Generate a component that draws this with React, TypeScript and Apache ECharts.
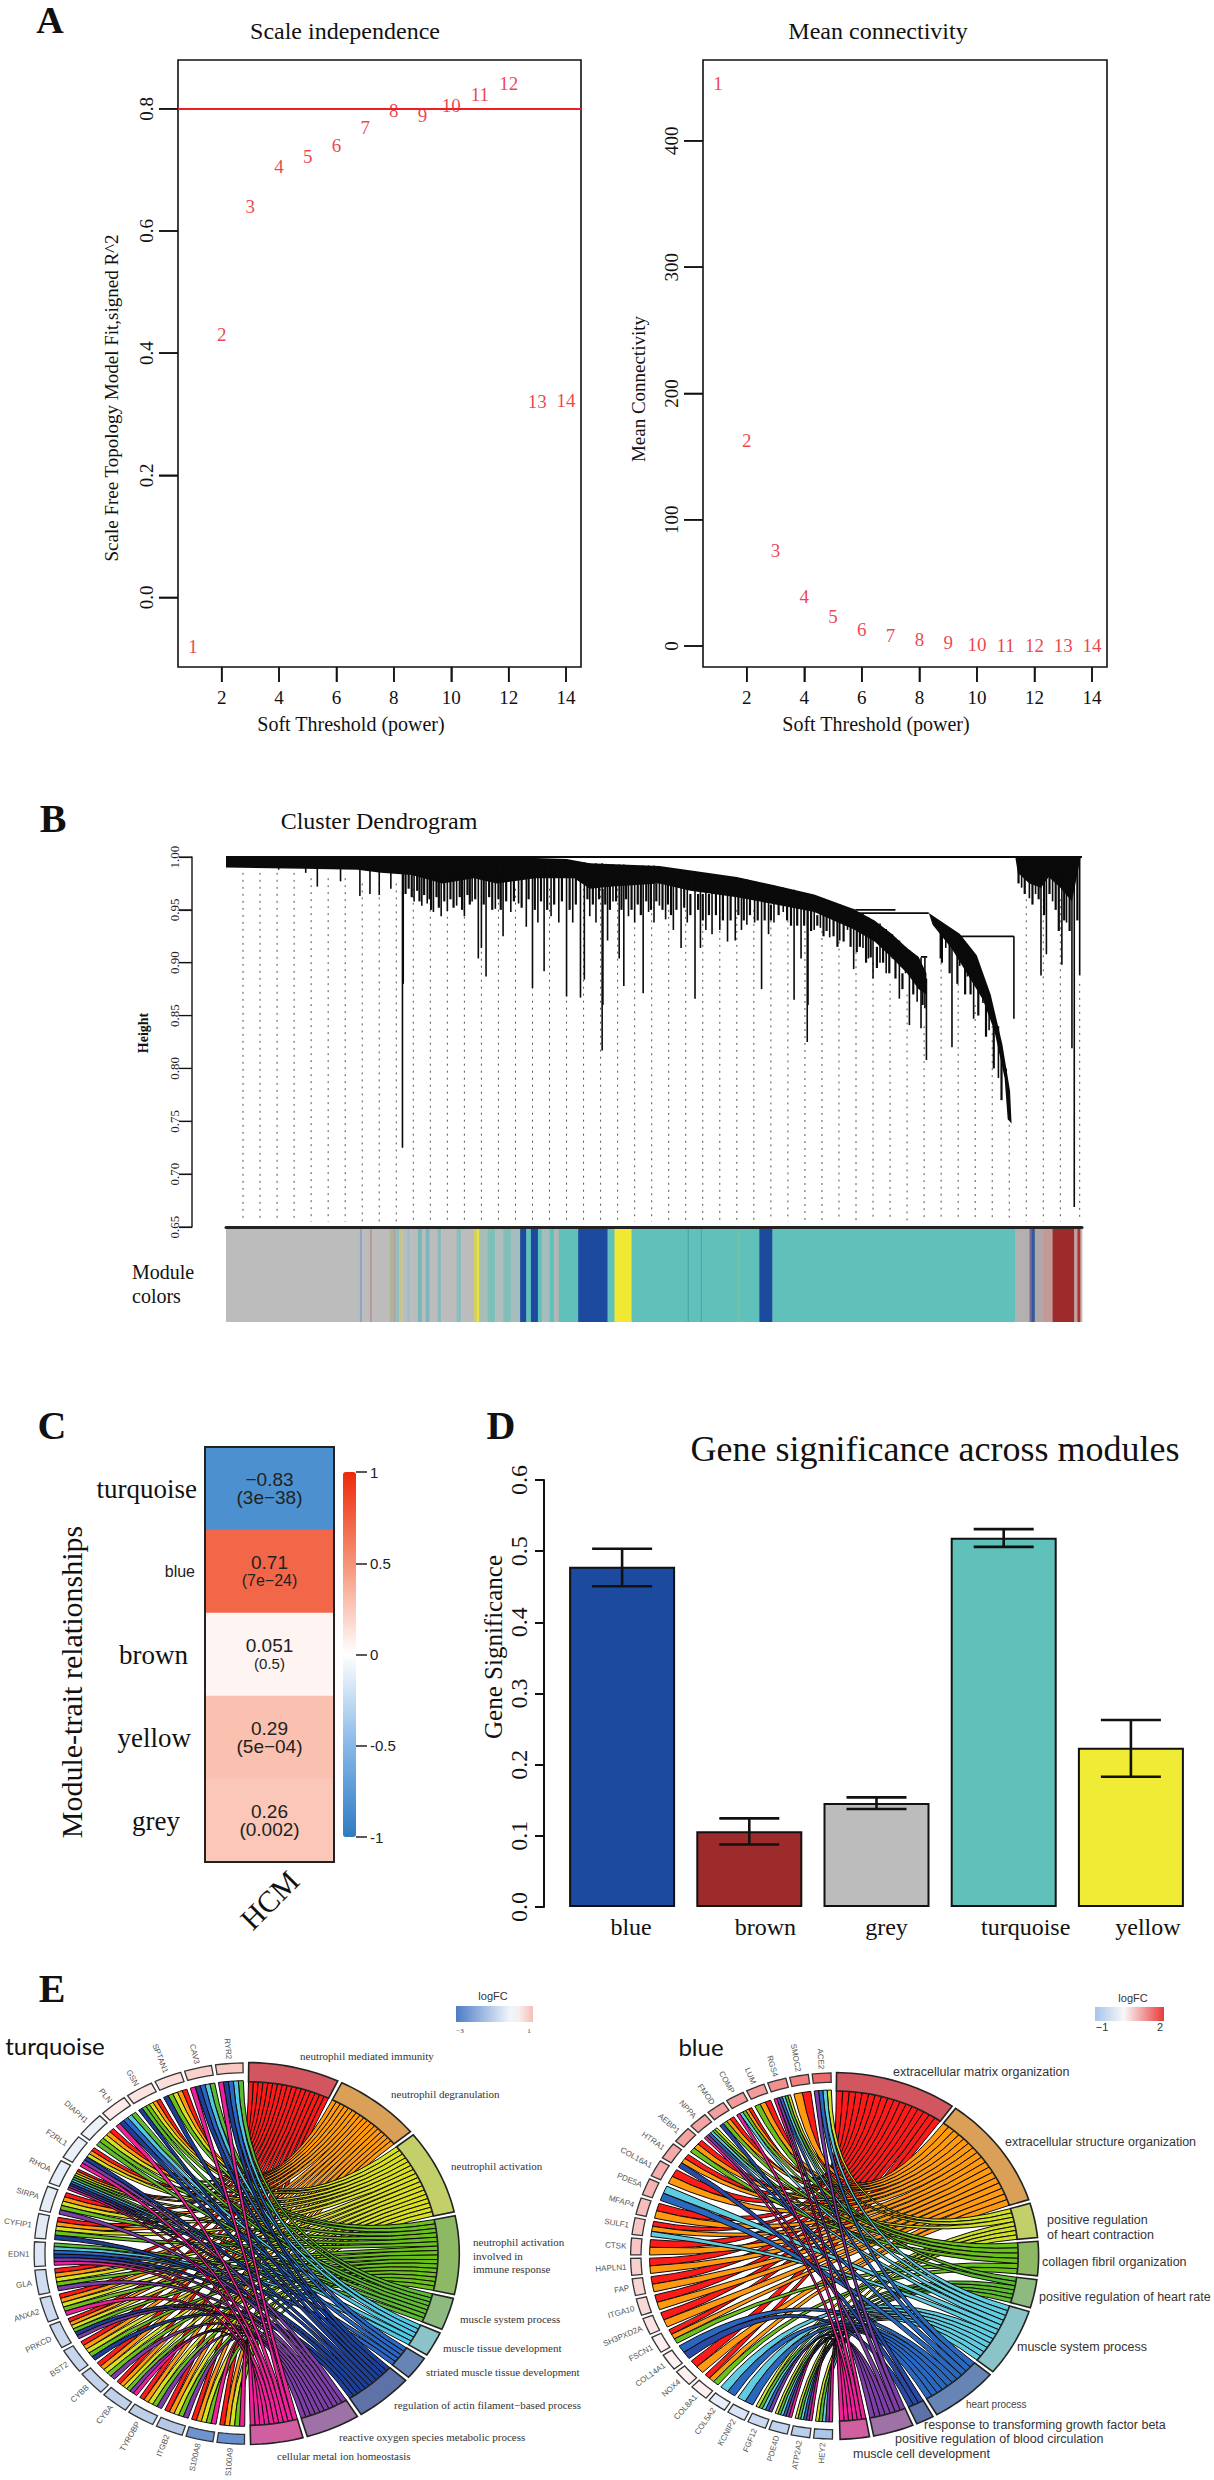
import React, { useEffect, useRef } from "react";
import * as echarts from "echarts";

const SERIF = '"Liberation Serif"';
const SANS = '"Liberation Sans"';

// ---------- Panel A ----------
const powers = [1, 2, 3, 4, 5, 6, 7, 8, 9, 10, 11, 12, 13, 14];
const scaleFit = [-0.08, 0.43, 0.64, 0.705, 0.722, 0.74, 0.769, 0.798, 0.789, 0.806, 0.824, 0.842, 0.321, 0.323];
const meanConn = [445, 163, 75.6, 39, 23, 13, 8.7, 5, 3, 1.6, 0.8, 0.5, 0.3, 0.2];
const powerTicks = [2, 4, 6, 8, 10, 12, 14];
const fitTicks = [0, 0.2, 0.4, 0.6, 0.8];
const connTicks = [0, 100, 200, 300, 400];

// ---------- Panel B ----------
const heightTicks = [0.65, 0.7, 0.75, 0.8, 0.85, 0.9, 0.95, 1.0];
const guideRanks = [22, 44, 66, 88, 110, 132, 154, 176, 198, 220, 242, 264, 286, 308, 330, 352, 374, 396, 418, 440, 462, 484, 506, 528, 550, 572, 594, 616, 638, 660, 682, 704, 726, 748, 770, 792, 814, 836, 858, 880, 902, 924, 946, 968, 990, 1012, 1034, 1056, 1078, 1103];
const guideTops = [0.985, 0.985, 0.985, 0.985, 0.98, 0.98, 0.98, 0.975, 0.975, 0.975, 0.97, 0.97, 0.97, 0.97, 0.97, 0.97, 0.97, 0.97, 0.97, 0.97, 0.97, 0.97, 0.97, 0.96, 0.96, 0.95, 0.95, 0.95, 0.95, 0.95, 0.95, 0.94, 0.94, 0.93, 0.93, 0.92, 0.91, 0.9, 0.88, 0.87, 0.84, 0.9, 0.88, 0.86, 0.84, 0.76, 0.96, 0.96, 0.96, 0.88];
// [gene rank, merge height, lowest leaf height]
const drips = [
  [68, 0.995, 0.988], [103, 0.995, 0.985], [118, 0.995, 0.972], [148, 0.995, 0.977], [173, 0.995, 0.963], [186, 0.995, 0.965], [198, 0.995, 0.964], [213, 0.995, 0.97],
  [228, 0.998, 0.725], [229, 0.998, 0.88], [243, 0.998, 0.958], [253, 0.998, 0.954], [260, 0.998, 0.956], [268, 0.998, 0.948], [278, 0.998, 0.944], [286, 0.998, 0.949],
  [298, 0.998, 0.954], [308, 0.998, 0.944], [318, 0.998, 0.958], [326, 0.998, 0.904], [330, 0.998, 0.914], [336, 0.998, 0.887], [348, 0.998, 0.951], [358, 0.998, 0.925],
  [368, 0.998, 0.948], [378, 0.998, 0.956], [388, 0.998, 0.934], [396, 0.998, 0.876], [403, 0.998, 0.938], [411, 0.998, 0.892], [420, 0.998, 0.944], [430, 0.998, 0.938],
  [440, 0.998, 0.868], [448, 0.996, 0.938], [458, 0.995, 0.867], [463, 0.995, 0.884], [470, 0.994, 0.944], [478, 0.994, 0.938], [486, 0.994, 0.817], [487, 0.97, 0.86],
  [493, 0.993, 0.921], [500, 0.993, 0.958], [508, 0.993, 0.904], [514, 0.993, 0.878], [520, 0.992, 0.944], [528, 0.992, 0.938], [539, 0.992, 0.871], [546, 0.992, 0.948],
  [553, 0.992, 0.938], [560, 0.991, 0.954], [568, 0.99, 0.941], [578, 0.989, 0.931], [588, 0.988, 0.914], [596, 0.987, 0.938], [606, 0.986, 0.866], [613, 0.985, 0.914],
  [620, 0.984, 0.931], [628, 0.983, 0.927], [638, 0.982, 0.931], [648, 0.981, 0.92], [658, 0.981, 0.921], [666, 0.98, 0.931], [673, 0.979, 0.936], [683, 0.977, 0.938],
  [692, 0.975, 0.875], [701, 0.974, 0.927], [708, 0.973, 0.938], [720, 0.971, 0.948], [734, 0.969, 0.865], [743, 0.967, 0.904], [751, 0.965, 0.825], [752, 0.965, 0.86],
  [760, 0.964, 0.931], [768, 0.962, 0.933], [780, 0.958, 0.924], [793, 0.955, 0.921], [803, 0.952, 0.931], [811, 0.951, 0.894], [823, 0.946, 0.914], [830, 0.943, 0.904],
  [836, 0.94, 0.885], [845, 0.937, 0.9], [853, 0.932, 0.89], [861, 0.927, 0.904], [870, 0.921, 0.866], [878, 0.915, 0.89], [883, 0.912, 0.841], [893, 0.906, 0.863],
  [898, 0.905, 0.838], [903, 0.905, 0.857], [905, 0.885, 0.808], [923, 0.937, 0.904], [930, 0.93, 0.914], [938, 0.925, 0.82], [948, 0.925, 0.897], [958, 0.917, 0.887],
  [966, 0.905, 0.847], [978, 0.88, 0.862], [986, 0.87, 0.836], [998, 0.84, 0.791], [1008, 0.8, 0.786], [1018, 0.925, 0.847], [1028, 0.998, 0.971], [1038, 0.998, 0.961],
  [1046, 0.998, 0.965], [1053, 0.998, 0.888], [1060, 0.998, 0.908], [1068, 0.998, 0.958], [1080, 0.998, 0.898], [1086, 0.996, 0.938], [1093, 0.996, 0.819], [1096, 0.996, 0.669], [1103, 0.999, 0.888],
];
// shorter leaves that make up the comb under the merge line
const combDrips = [
  [232, 0.985, 0.965], [236, 0.985, 0.97], [240, 0.985, 0.962], [247, 0.985, 0.968], [250, 0.985, 0.958], [256, 0.985, 0.964], [263, 0.985, 0.96], [265, 0.985, 0.95], [272, 0.985, 0.962], [275, 0.985, 0.952],
  [282, 0.985, 0.958], [290, 0.985, 0.96], [294, 0.985, 0.952], [302, 0.985, 0.962], [305, 0.985, 0.95], [312, 0.985, 0.964], [315, 0.985, 0.955], [322, 0.985, 0.96], [333, 0.985, 0.955], [340, 0.985, 0.962],
  [344, 0.985, 0.95], [352, 0.985, 0.96], [355, 0.985, 0.95], [362, 0.985, 0.958], [372, 0.985, 0.958], [382, 0.985, 0.952], [391, 0.985, 0.96], [399, 0.985, 0.95], [407, 0.985, 0.958], [415, 0.985, 0.95],
  [424, 0.985, 0.955], [434, 0.985, 0.958], [444, 0.985, 0.95], [452, 0.985, 0.955], [467, 0.975, 0.96], [474, 0.975, 0.955], [482, 0.975, 0.96], [490, 0.975, 0.955], [496, 0.975, 0.95], [504, 0.975, 0.958],
  [511, 0.975, 0.95], [517, 0.975, 0.96], [524, 0.975, 0.95], [532, 0.975, 0.955], [536, 0.975, 0.945], [543, 0.975, 0.958], [549, 0.975, 0.95], [556, 0.975, 0.958], [564, 0.975, 0.95], [571, 0.975, 0.955],
  [575, 0.975, 0.945], [582, 0.975, 0.95], [592, 0.975, 0.952], [600, 0.965, 0.945], [610, 0.965, 0.95], [616, 0.965, 0.94], [624, 0.965, 0.945], [633, 0.965, 0.945], [642, 0.965, 0.94], [652, 0.965, 0.94],
  [662, 0.965, 0.945], [669, 0.965, 0.94], [677, 0.965, 0.945], [687, 0.965, 0.94], [696, 0.965, 0.94], [704, 0.955, 0.94], [714, 0.955, 0.945], [725, 0.955, 0.94], [730, 0.955, 0.935], [738, 0.955, 0.935],
  [747, 0.955, 0.935], [756, 0.955, 0.93], [764, 0.945, 0.935], [772, 0.945, 0.925], [776, 0.945, 0.93], [785, 0.945, 0.925], [790, 0.945, 0.915], [798, 0.945, 0.92], [807, 0.945, 0.915], [815, 0.93, 0.91],
  [819, 0.93, 0.915], [827, 0.93, 0.9], [833, 0.93, 0.905], [841, 0.915, 0.895], [849, 0.915, 0.9], [857, 0.915, 0.89], [865, 0.915, 0.885], [874, 0.89, 0.875], [888, 0.89, 0.87], [900, 0.89, 0.86],
  [925, 0.93, 0.9], [935, 0.92, 0.89], [945, 0.915, 0.88], [955, 0.905, 0.87], [962, 0.9, 0.87], [972, 0.88, 0.85], [982, 0.86, 0.83], [992, 0.84, 0.8], [1002, 0.82, 0.77],
  [1024, 0.99, 0.975], [1032, 0.99, 0.965], [1042, 0.99, 0.955], [1050, 0.99, 0.96], [1057, 0.99, 0.945], [1064, 0.99, 0.965], [1072, 0.99, 0.95], [1076, 0.99, 0.93], [1083, 0.99, 0.94], [1090, 0.99, 0.93], [1100, 0.99, 0.94],
];
const massMain = [
  [0, 1.0], [400, 0.999], [440, 0.998], [470, 0.994], [560, 0.9916], [660, 0.981], [710, 0.973], [760, 0.9646], [810, 0.951], [838, 0.94], [860, 0.9275], [880, 0.914], [895, 0.9055], [905, 0.89],
  [905, 0.87], [895, 0.875], [880, 0.89], [860, 0.905], [838, 0.92], [810, 0.932], [760, 0.948], [710, 0.955], [660, 0.962], [600, 0.968], [560, 0.975], [500, 0.972], [470, 0.97], [450, 0.98], [400, 0.98], [350, 0.975], [320, 0.98], [280, 0.975], [240, 0.983], [200, 0.985], [170, 0.988], [100, 0.989], [0, 0.99],
];
const massBranch = [
  [908, 0.947], [948, 0.9274], [970, 0.907], [988, 0.87], [1003, 0.823], [1013, 0.779], [1015, 0.748],
  [1010, 0.752], [1006, 0.791], [993, 0.835], [978, 0.865], [958, 0.889], [938, 0.913], [913, 0.936],
];
const massRight = [
  [1020, 0.999], [1104, 0.999], [1103, 0.995], [1093, 0.958], [1078, 0.971], [1063, 0.981], [1053, 0.971], [1038, 0.975], [1023, 0.985],
];
// [rank from, rank to, merge height]
const merges = [[0, 1106, 1.0], [813, 865, 0.95], [818, 908, 0.947], [948, 1018, 0.925], [898, 906, 0.9055], [1058, 1100, 0.995]];
const moduleStarts = [0, 173, 176, 186, 189, 211, 215, 220, 224, 228, 233, 238, 248, 253, 258, 263, 273, 278, 298, 304, 320, 324, 327, 338, 348, 358, 368, 380, 388, 394, 403, 408, 418, 424, 430, 455, 493, 502, 524, 596, 598, 613, 615, 660, 663, 689, 706, 1020, 1038, 1041, 1045, 1055, 1068, 1096, 1100, 1104, 1106];
const moduleShades = ["#bdbcbd", "#8fa6c0", "#bdbcbd", "#b99a9a", "#bdbcbd", "#aab88c", "#b5a5a5", "#8cc0bc", "#c9c47e", "#bdbcbd", "#a0bcc4", "#bdbcbd", "#74b8b8", "#bdbcbd", "#7cb5c0", "#bdbcbd", "#8ab9bd", "#bdbcbd", "#8cbcc0", "#bdbcbd", "#d2cf5c", "#e8e24a", "#a8bdb4", "#7fbfb9", "#b0bdbd", "#80bfb9", "#a5bdbc", "#1c4a9e", "#60c1bb", "#1c4a9e", "#60c1bb", "#a5bdbc", "#60c1bb", "#b5b5b5", "#60c1bb", "#1c4a9e", "#60c1bb", "#f0e832", "#60c1bb", "#48a8a4", "#60c1bb", "#48a8a4", "#60c1bb", "#70c0a8", "#60c1bb", "#1c4a9e", "#60c1bb", "#b5b0b0", "#7a6a9a", "#335a9a", "#b0a8a8", "#c49a98", "#9e2b2b", "#bfa0a0", "#b03030", "#bdbcbd"];

// ---------- Panel C ----------
const heatModules = ["turquoise", "blue", "brown", "yellow", "grey"];
const heatCorr = [-0.83, 0.71, 0.051, 0.29, 0.26];
const heatP = ["(3e\u221238)", "(7e\u221224)", "(0.5)", "(5e\u221204)", "(0.002)"];
const heatPStyle = ["p20", "p17", "p16", "p20", "p20"];

// ---------- Panel D ----------
const barNames = ["blue", "brown", "grey", "turquoise", "yellow"];
const barMeans = [0.478, 0.1065, 0.146, 0.519, 0.2236];
const barLow = [0.4508, 0.0879, 0.1377, 0.506, 0.183];
const barHigh = [0.5035, 0.1246, 0.154, 0.531, 0.2628];
const barColors = ["#1c4a9e", "#9e2b2b", "#bdbcbd", "#60c1bb", "#f0ec36"];
const barTicks = [0, 0.1, 0.2, 0.3, 0.4, 0.5, 0.6];

// ---------- Panel E ----------
const ribbonTurq = ["#ff1a1a", "#ff9a10", "#d8e020", "#6cc01c", "#5cbb30", "#50c8e4", "#2a68c8", "#1c3f9a", "#7e3ea8", "#f0209a"];
const ribbonBlue = ["#ff1a1a", "#ff9a10", "#d0e028", "#6cc01c", "#5cbb30", "#60cce0", "#2a68c0", "#2a4aa8", "#7e3ea8", "#f0209a"];
const cellTurq = ["#d25660", "#dba057", "#c3cf68", "#8eb964", "#8cba7f", "#8bc4c8", "#6785b4", "#5f72a8", "#9e72a6", "#d05fa0"];
const cellBlue = ["#d25660", "#dba057", "#c3cf68", "#8eb964", "#8cba7f", "#8bc4c8", "#6785b4", "#5f72a8", "#9e72a6", "#d05fa0"];

const genesTurq = ["RYR2", "CAV3", "SPTAN1", "GSN", "PLN", "DIAPH1", "F2RL1", "RHOA", "SIRPA", "CYFIP1", "EDN1", "GLA", "ANXA2", "PRKCD", "BST2", "CYBB", "CYBA", "TYROBP", "ITGB2", "S100A8", "S100A9"];
const logFCTurq = [0.85, 0.7, 0.5, 0.42, 0.3, -0.3, -0.36, -0.4, -0.42, -0.45, -0.55, -0.8, -0.85, -0.9, -0.95, -1.0, -1.05, -1.1, -1.25, -2.45, -2.55];
const linksTurq = [
  [5, 6, 7, 8, 10], [5, 6, 7, 8, 10], [1, 2, 3, 4, 8], [1, 2, 3, 4, 5, 8], [5, 6, 7, 8, 10], [1, 2, 3, 4, 5],
  [1, 2, 3, 8, 9, 10], [1, 2, 3, 4, 5, 6, 7, 8, 9, 10], [1, 2, 3, 4, 9], [1, 2, 3, 4, 8], [5, 6, 7, 8, 9, 10], [1, 2, 3, 4, 9],
  [1, 2, 3, 4, 10], [1, 2, 3, 4, 8, 9], [1, 2, 3, 4, 8], [1, 2, 3, 4, 9], [1, 2, 3, 4, 9, 10], [1, 2, 3, 4, 9], [1, 2, 3, 4, 9], [1, 2, 3, 4, 10], [1, 2, 3, 4, 10],
];
const termEndsTurq = [26, 51, 78, 103, 114, 122.7, 131, 148, 164, 179.5];

const genesBlue = ["ACE2", "SMOC2", "RGS4", "LUM", "COMP", "FMOD", "NPPA", "AEBP1", "HTRA1", "COL16A1", "PDE5A", "MFAP4", "SULF1", "CTSK", "HAPLN1", "FAP", "ITGA10", "SH3PXD2A", "FSCN1", "COL14A1", "NOX4", "COL8A1", "COL5A2", "KCNIP2", "FGF12", "PDE4D", "ATP2A2", "HEY2"];
const logFCBlue = [1.51, 1.3, 1.13, 1.03, 1.03, 0.97, 0.93, 0.93, 0.87, 0.83, 0.77, 0.68, 0.6, 0.6, 0.48, 0.43, 0.4, 0.28, 0.16, 0.14, 0.15, 0.15, -0.26, -0.4, -0.55, -0.66, -0.74, -0.87];
const linksBlue = [
  [3, 6, 7, 9], [1, 2], [3, 5, 6, 7, 9, 10], [1, 2, 4], [1, 2, 4, 6, 10], [1, 2, 4, 8], [3, 5, 6, 7, 9, 10], [1, 2, 4], [1, 2, 8], [1, 2],
  [6, 7], [1, 2], [1, 2, 6], [1, 2], [1, 2], [1, 2], [1, 2], [1, 2], [1, 2, 4], [7, 8], [1, 2], [1, 2, 4], [6, 7], [6, 7], [3, 5, 6, 7, 9], [3, 5, 6, 7, 9, 10], [3, 5, 6, 7, 9, 10], [3, 5, 6, 9, 10],
];
const termEndsBlue = [35.8, 72.7, 84.8, 96.8, 107, 129.7, 150.5, 156.8, 169.5, 179];

const rad = (d: number) => (d * Math.PI) / 180;

function fcColor(v: number, neg: string, pos: string, nMax: number, pMax: number) {
  if (v < 0) return echarts.color.lerp(Math.min(1, -v / nMax), ["#ffffff", neg]);
  return echarts.color.lerp(Math.min(1, v / pMax), ["#ffffff", pos]);
}

function chordSeries(gridIdx: number, genes: string[], logFC: number[], links: number[][], termEnds: number[], ribbonCols: string[], cellCols: string[], neg: string, pos: string, nMax: number, pMax: number, offset: number) {
  const step = (180 - offset) / genes.length;
  const gGap = 1.1;
  const tGap = 1.2;
  const axis = { xAxisIndex: gridIdx, yAxisIndex: gridIdx, coordinateSystem: "cartesian2d", silent: true };
  const geneRange = (i: number) => [offset + i * step + gGap / 2, offset + (i + 1) * step - gGap / 2];
  const termRange = (j: number) => [(j === 0 ? 0 : termEnds[j - 1]) + tGap / 2, termEnds[j] - tGap / 2];
  const ribbons: number[][] = [];
  termEnds.forEach((_, j) => {
    const term = j + 1;
    const members = genes.map((_, i) => i).filter((i) => links[i].includes(term));
    members.forEach((i, m) => {
      const [ga, gb] = geneRange(i);
      const [ta, tb] = termRange(j);
      const k = links[i].indexOf(term);
      const gw = (gb - ga) / links[i].length;
      const tw = (tb - ta) / members.length;
      ribbons.push([i, j, -(ga + k * gw), -(ga + (k + 1) * gw), ta + m * tw, ta + (m + 1) * tw]);
    });
  });
  const arcPts = (api: any, a: number, b: number, r: number) => {
    const out: number[][] = [];
    const n = Math.max(2, Math.ceil(Math.abs(b - a) / 1.5));
    for (let s = 0; s <= n; s++) {
      const d = rad(a + ((b - a) * s) / n);
      out.push(api.coord([r * Math.sin(d), r * Math.cos(d)]));
    }
    return out;
  };
  return [
    {
      type: "custom", ...axis, data: ribbons,
      renderItem: (_p: any, api: any) => {
        const [g0, g1, t0, t1] = [api.value(2), api.value(3), api.value(4), api.value(5)];
        const gp = arcPts(api, g0, g1, 0.905);
        const tp = arcPts(api, t1, t0, 0.9);
        const c = api.coord([0, 0]);
        const L = (ps: number[][]) => ps.map((p) => `L${p[0].toFixed(1)} ${p[1].toFixed(1)}`).join("");
        const d = `M${gp[0][0].toFixed(1)} ${gp[0][1].toFixed(1)}${L(gp.slice(1))}Q${c[0]} ${c[1]} ${tp[0][0].toFixed(1)} ${tp[0][1].toFixed(1)}${L(tp.slice(1))}Q${c[0]} ${c[1]} ${gp[0][0].toFixed(1)} ${gp[0][1].toFixed(1)}Z`;
        return { type: "path", shape: { pathData: d }, style: { fill: ribbonCols[api.value(1)], stroke: "#0c0c0c", lineWidth: 1 } };
      },
    },
    {
      type: "custom", ...axis, data: termEnds.map((_, j) => [j, ...termRange(j)]),
      renderItem: (_p: any, api: any) => {
        const a = api.value(1), b = api.value(2);
        return { type: "polygon", shape: { points: [...arcPts(api, a, b, 1.0), ...arcPts(api, b, a, 0.9)] }, style: { fill: cellCols[api.value(0)], stroke: "#222", lineWidth: 1.6 } };
      },
    },
    {
      type: "custom", ...axis, data: genes.map((_, i) => [i, ...geneRange(i)]),
      renderItem: (_p: any, api: any) => {
        const i = api.value(0), a = -api.value(1), b = -api.value(2);
        const mid = (a + b) / 2;
        const lp = api.coord([1.02 * Math.sin(rad(mid)), 1.02 * Math.cos(rad(mid))]);
        return {
          type: "group",
          children: [
            { type: "polygon", shape: { points: [...arcPts(api, a, b, 0.998), ...arcPts(api, b, a, 0.947)] }, style: { fill: fcColor(logFC[i], neg, pos, nMax, pMax), stroke: "#333", lineWidth: 1.3 } },
            { type: "text", x: lp[0], y: lp[1], rotation: rad(-mid - 90), style: { text: genes[i], font: `8px ${SANS}`, fill: "#555", align: "right", verticalAlign: "middle" } },
          ],
        };
      },
    },
  ];
}

const T = (text: string, x: number, y: number, font: string, extra: any = {}) => ({
  type: "text", x, y, rotation: extra.rotation || 0, silent: true,
  style: { text, font, fill: extra.fill || "#111", align: extra.align || "center", verticalAlign: "middle" },
});

const termLabelsTurq: [string, number, number][] = [
  ["neutrophil mediated immunity", 300, 2056], ["neutrophil degranulation", 391, 2094], ["neutrophil activation", 451, 2166],
  ["neutrophil activation", 473, 2242], ["involved in", 473, 2256], ["immune response", 473, 2269],
  ["muscle system process", 460, 2319], ["muscle tissue development", 443, 2348], ["striated muscle tissue development", 426, 2372],
  ["regulation of actin filament\u2212based process", 394, 2405], ["reactive oxygen species metabolic process", 339, 2437], ["cellular metal ion homeostasis", 277, 2456],
];
const termLabelsBlue: [string, number, number][] = [
  ["extracellular matrix organization", 893, 2072], ["extracellular structure organization", 1005, 2142],
  ["positive regulation", 1047, 2220], ["of heart contraction", 1047, 2235], ["collagen fibril organization", 1042, 2262],
  ["positive regulation of heart rate", 1039, 2297], ["muscle system process", 1017, 2347],
  ["response to transforming growth factor beta", 924, 2425], ["positive regulation of blood circulation", 895, 2439], ["muscle cell development", 853, 2454],
];

function buildOption() {
  const rect = (api: any, x0: number, x1: number, y0: number, y1: number, fill: string) => {
    const a = api.coord([x0, y1]), b = api.coord([x1, y0]);
    return { type: "rect", shape: { x: a[0], y: a[1], width: b[0] - a[0], height: b[1] - a[1] }, style: { fill } };
  };
  const rLabelSeries = (grid: number, vals: number[]) => ({
    type: "scatter", xAxisIndex: grid, yAxisIndex: grid, symbolSize: 0, silent: true,
    data: powers.map((p, i) => [p, vals[i]]),
    label: { show: true, position: "inside", formatter: (p: any) => String(p.data[0]), color: "#e8121c", fontFamily: SERIF, fontSize: 19 },
    labelLayout: { hideOverlap: false },
  });
  const serifAxisLabel = { fontFamily: SERIF, color: "#111" };
  const xA = (g: number) => ({
    type: "value", gridIndex: g, min: 0.48, max: 14.52,
    axisLine: { show: false, onZero: false }, splitLine: { show: false },
    axisTick: { show: true, length: 15, customValues: powerTicks, lineStyle: { color: "#111", width: 1.5 } },
    axisLabel: { ...serifAxisLabel, fontSize: 19, margin: 21, customValues: powerTicks, hideOverlap: false },
  });
  const yA = (g: number, min: number, max: number, ticks: number[]) => ({
    type: "value", gridIndex: g, min, max,
    axisLine: { show: false, onZero: false }, splitLine: { show: false },
    axisTick: { show: true, length: 19, customValues: ticks, lineStyle: { color: "#111", width: 1.5 } },
    axisLabel: { ...serifAxisLabel, fontSize: 19, margin: 22, rotate: 90, customValues: ticks, formatter: (v: number) => (max < 2 ? v.toFixed(1) : String(v)) },
  });
  const lineEl = (x1: number, y1: number, x2: number, y2: number, style: any) => ({ type: "line", shape: { x1, y1, x2, y2 }, style });
  // tick marks placed through each grid's own scale, kept above the plots
  const yTicks = (g: number, vals: number[], xMin: number, offset: number, len: number, width: number) => ({
    type: "custom", coordinateSystem: "cartesian2d", xAxisIndex: g, yAxisIndex: g, silent: true, z: 8, clip: false,
    data: vals.map((v) => [xMin, v]),
    renderItem: (_p: any, api: any) => {
      const a = api.coord([api.value(0), api.value(1)]);
      return lineEl(a[0] - offset, a[1], a[0] - offset - len, a[1], { stroke: "#111", lineWidth: width });
    },
  });
  const xTicks = (g: number, vals: number[], yMin: number, len: number) => ({
    type: "custom", coordinateSystem: "cartesian2d", xAxisIndex: g, yAxisIndex: g, silent: true, z: 8, clip: false,
    data: vals.map((v) => [v, yMin]),
    renderItem: (_p: any, api: any) => {
      const a = api.coord([api.value(0), api.value(1)]);
      return lineEl(a[0], a[1], a[0], a[1] + len, { stroke: "#111", lineWidth: 1.5 });
    },
  });

  const heatIdx = 8;
  const series: any[] = [
    { ...rLabelSeries(0, scaleFit), markLine: { silent: true, symbol: "none", label: { show: false }, lineStyle: { color: "#ee2026", width: 2, type: "solid" }, data: [{ yAxis: 0.8 }] } },
    rLabelSeries(1, meanConn),
    {
      type: "custom", coordinateSystem: "cartesian2d", xAxisIndex: 2, yAxisIndex: 2, silent: true, data: guideRanks.map((r, i) => [r, guideTops[i]]),
      renderItem: (_p: any, api: any) => {
        const a = api.coord([api.value(0), api.value(1)]), b = api.coord([api.value(0), 0.655]);
        return lineEl(a[0], a[1], b[0], b[1], { stroke: "#555", lineWidth: 1, lineDash: [2, 5] });
      },
    },
    {
      type: "custom", coordinateSystem: "cartesian2d", xAxisIndex: 2, yAxisIndex: 2, silent: true, data: [0, 1, 2].map((i) => [i, 1]),
      renderItem: (_p: any, api: any) => {
        const pts = [massMain, massBranch, massRight][api.value(0)].map((p) => api.coord(p));
        return { type: "polygon", shape: { points: pts }, style: { fill: "#0a0a0a" } };
      },
    },
    {
      type: "custom", coordinateSystem: "cartesian2d", xAxisIndex: 2, yAxisIndex: 2, silent: true, data: drips,
      renderItem: (_p: any, api: any) => {
        const a = api.coord([api.value(0), api.value(1)]), b = api.coord([api.value(0), api.value(2)]);
        return lineEl(a[0], a[1], b[0], b[1], { stroke: "#0a0a0a", lineWidth: 1.6 });
      },
    },
    {
      type: "custom", coordinateSystem: "cartesian2d", xAxisIndex: 2, yAxisIndex: 2, silent: true, data: combDrips,
      renderItem: (_p: any, api: any) => {
        const a = api.coord([api.value(0), api.value(1)]), b = api.coord([api.value(0), api.value(2)]);
        return lineEl(a[0], a[1], b[0], b[1], { stroke: "#0a0a0a", lineWidth: 2.2 });
      },
    },
    {
      type: "custom", coordinateSystem: "cartesian2d", xAxisIndex: 2, yAxisIndex: 2, silent: true, data: merges,
      renderItem: (_p: any, api: any) => {
        const a = api.coord([api.value(0), api.value(2)]), b = api.coord([api.value(1), api.value(2)]);
        return lineEl(a[0], a[1], b[0], b[1], { stroke: "#0a0a0a", lineWidth: 1.8 });
      },
    },
    {
      type: "custom", coordinateSystem: "cartesian2d", xAxisIndex: 3, yAxisIndex: 3, silent: true,
      data: moduleShades.map((_, i) => [moduleStarts[i], moduleStarts[i + 1]]),
      renderItem: (p: any, api: any) => rect(api, api.value(0), api.value(1) + 0.5, 0, 1, moduleShades[p.dataIndex]),
    },
    {
      type: "heatmap", xAxisIndex: 4, yAxisIndex: 4, silent: true,
      data: heatCorr.map((v, i) => [0, i, v]),
      label: {
        show: true,
        formatter: (p: any) => `{m|${p.data[2] < 0 ? "\u2212" + Math.abs(p.data[2]) : p.data[2]}}\n{${heatPStyle[p.data[1]]}|${heatP[p.data[1]]}}`,
        rich: {
          m: { fontFamily: SANS, fontSize: 19, color: "#222", lineHeight: 18 },
          p20: { fontFamily: SANS, fontSize: 19, color: "#222", lineHeight: 18 },
          p17: { fontFamily: SANS, fontSize: 16, color: "#222", lineHeight: 18 },
          p16: { fontFamily: SANS, fontSize: 15, color: "#222", lineHeight: 18 },
        },
      },
    },
    {
      type: "bar", xAxisIndex: 6, yAxisIndex: 6, barWidth: 106, silent: true, z: 2,
      data: barMeans.map((v, i) => ({ value: v, itemStyle: { color: barColors[i], borderColor: "#111", borderWidth: 2 } })),
    },
    {
      type: "custom", coordinateSystem: "cartesian2d", xAxisIndex: 6, yAxisIndex: 6, silent: true, z: 6,
      data: barNames.map((_, i) => [i, barLow[i], barHigh[i]]),
      renderItem: (_p: any, api: any) => {
        const a = api.coord([api.value(0), api.value(1)]), b = api.coord([api.value(0), api.value(2)]);
        const st = { stroke: "#111", lineWidth: 2.6 };
        return { type: "group", children: [lineEl(a[0], a[1], b[0], b[1], st), lineEl(a[0] - 30, a[1], a[0] + 30, a[1], st), lineEl(b[0] - 30, b[1], b[0] + 30, b[1], st)] };
      },
    },
    ...chordSeries(7, genesTurq, logFCTurq, linksTurq, termEndsTurq, ribbonTurq, cellTurq, "#4d7cc6", "#f7bdb6", 3, 1, 0.4),
    ...chordSeries(8, genesBlue, logFCBlue, linksBlue, termEndsBlue, ribbonBlue, cellBlue, "#a0bee8", "#e83a3a", 1, 2, 0.4),
    yTicks(0, fitTicks, 0.48, 0, 19, 1.5),
    yTicks(1, connTicks, 0.48, 0, 19, 1.5),
    xTicks(0, powerTicks, -0.114, 15),
    xTicks(1, powerTicks, -16.6, 15),
    yTicks(2, heightTicks, 0, 34, 13, 1.2),
  ];

  const chordAxis = (g: number) => ({ type: "value", gridIndex: g, min: -1, max: 1, show: false });

  const graphicEls: any[] = [
    T("A", 50, 20, `bold 38px ${SERIF}`), T("B", 53, 818, `bold 40px ${SERIF}`), T("C", 52, 1425, `bold 40px ${SERIF}`), T("D", 501, 1425, `bold 40px ${SERIF}`), T("E", 52, 1988, `bold 40px ${SERIF}`),
    T("Soft Threshold (power)", 351, 724, `20px ${SERIF}`), T("Soft Threshold (power)", 876, 724, `20px ${SERIF}`),
    T("Scale Free Topology Model Fit,signed R^2", 111, 398, `19px ${SERIF}`, { rotation: Math.PI / 2 }),
    T("Mean Connectivity", 638, 389, `19px ${SERIF}`, { rotation: Math.PI / 2 }),
    T("Height", 143, 1033, `bold 14px ${SERIF}`, { rotation: Math.PI / 2 }),
    T("Module", 132, 1272, `20px ${SERIF}`, { align: "left" }), T("colors", 132, 1296, `20px ${SERIF}`, { align: "left" }),
    T("Module-trait relationships", 71, 1682, `30px ${SERIF}`, { rotation: Math.PI / 2 }),
    T("Gene Significance", 493, 1647, `25px ${SERIF}`, { rotation: Math.PI / 2 }),
    T("turquoise", 55, 2045, `24px Lato`), T("blue", 701, 2046, `24px Lato`),
    T("logFC", 493, 1996, `11px ${SANS}`, { fill: "#333" }), T("logFC", 1133, 1998, `11px ${SANS}`, { fill: "#333" }),
    T("\u22123", 460, 2031, `7px ${SERIF}`, { fill: "#333" }), T("1", 529, 2031, `7px ${SERIF}`, { fill: "#333" }),
    T("\u22121", 1102, 2027, `11px ${SANS}`, { fill: "#333" }), T("2", 1160, 2027, `11px ${SANS}`, { fill: "#333" }),
    T("heart process", 966, 2404, `10px ${SANS}`, { align: "left", fill: "#444" }),
    {
      type: "rect", silent: true, shape: { x: 456, y: 2006, width: 77, height: 16 },
      style: { fill: new echarts.graphic.LinearGradient(0, 0, 1, 0, [{ offset: 0, color: "#4d7cc6" }, { offset: 0.7, color: "#f0f6fb" }, { offset: 0.82, color: "#f5eeee" }, { offset: 1, color: "#f7bdb6" }]) },
    },
    {
      type: "rect", silent: true, shape: { x: 1095, y: 2007, width: 69, height: 14 },
      style: { fill: new echarts.graphic.LinearGradient(0, 0, 1, 0, [{ offset: 0, color: "#a8c4ea" }, { offset: 0.42, color: "#f8f8f8" }, { offset: 1, color: "#e83a3a" }]) },
    },
    ...termLabelsTurq.map(([t, x, y]) => T(t, x, y, `11px ${SERIF}`, { align: "left", fill: "#333" })),
    ...termLabelsBlue.map(([t, x, y]) => T(t, x, y, `12.5px ${SANS}`, { align: "left", fill: "#333" })),
  ];

  return {
    animation: false,
    backgroundColor: "#ffffff",
    textStyle: { fontFamily: SERIF },
    title: [
      { text: "Scale independence", left: 340, top: 14, textAlign: "center", textStyle: { fontFamily: SERIF, fontSize: 24, fontWeight: "normal", color: "#111" } },
      { text: "Mean connectivity", left: 873, top: 14, textAlign: "center", textStyle: { fontFamily: SERIF, fontSize: 24, fontWeight: "normal", color: "#111" } },
      { text: "Cluster Dendrogram", left: 374, top: 804, textAlign: "center", textStyle: { fontFamily: SERIF, fontSize: 24, fontWeight: "normal", color: "#111" } },
      { text: "Gene significance across modules", left: 930, top: 1426, textAlign: "center", textStyle: { fontFamily: SERIF, fontSize: 36, fontWeight: "normal", color: "#111" } },
    ],
    grid: [
      { left: 178, top: 60, width: 403, height: 607, show: true, borderColor: "#111", borderWidth: 1.6, backgroundColor: "transparent" },
      { left: 703, top: 60, width: 404, height: 607, show: true, borderColor: "#111", borderWidth: 1.6, backgroundColor: "transparent" },
      { left: 226, top: 857, width: 856, height: 370 },
      { left: 226, top: 1229, width: 856, height: 93 },
      { left: 205, top: 1447, width: 129, height: 415, show: true, borderColor: "#222", borderWidth: 2, backgroundColor: "transparent", z: 5 },
      { left: 343, top: 1472, width: 13, height: 365 },
      { left: 558.5, top: 1480, width: 636, height: 427 },
      { left: 246.5 - 212.8, top: 2253.5 - 191, width: 425.6, height: 382 },
      { left: 834.4 - 204.2, top: 2256 - 183.4, width: 408.4, height: 366.8 },
    ],
    xAxis: [
      xA(0), xA(1),
      { type: "value", gridIndex: 2, min: 0, max: 1106, axisLine: { show: true, onZero: false, lineStyle: { color: "#222", width: 3 } }, axisTick: { show: false }, axisLabel: { show: false }, splitLine: { show: false } },
      { type: "value", gridIndex: 3, min: 0, max: 1106, show: false },
      {
        type: "category", gridIndex: 4, data: ["HCM"], axisLine: { show: false }, axisTick: { show: false }, splitArea: { show: false },
        axisLabel: { rotate: 45, align: "center", verticalAlign: "middle", margin: 38, fontFamily: SERIF, fontSize: 30, color: "#111" },
      },
      { type: "value", gridIndex: 5, show: false, min: 0, max: 1 },
      {
        type: "category", gridIndex: 6, data: barNames, axisLine: { show: false }, axisTick: { show: false },
        axisLabel: {
          margin: 8, interval: 0,
          formatter: (v: string) => `{${v}|${v}}`,
          rich: {
            blue: { fontFamily: SERIF, fontSize: 24, color: "#111", padding: [0, 0, 0, 18] },
            brown: { fontFamily: SERIF, fontSize: 24, color: "#111", padding: [0, 0, 0, 32] },
            grey: { fontFamily: SERIF, fontSize: 24, color: "#111", padding: [0, 0, 0, 20] },
            turquoise: { fontFamily: SERIF, fontSize: 24, color: "#111", padding: [0, 0, 0, 44] },
            yellow: { fontFamily: SERIF, fontSize: 24, color: "#111", padding: [0, 0, 0, 34] },
          },
        },
      },
      chordAxis(7), chordAxis(8),
    ],
    yAxis: [
      yA(0, -0.114, 0.88, fitTicks), yA(1, -16.6, 464, connTicks),
      {
        type: "value", gridIndex: 2, min: 0.65, max: 1.0, interval: 0.05, offset: 34,
        axisLine: { show: true, onZero: false, lineStyle: { color: "#222", width: 1.5 } }, splitLine: { show: false },
        axisTick: { show: true, length: 13, lineStyle: { color: "#222", width: 1.2 } },
        axisLabel: { rotate: 90, margin: 11, fontFamily: SERIF, fontSize: 13, color: "#222", formatter: (v: number) => v.toFixed(2) },
      },
      { type: "value", gridIndex: 3, min: 0, max: 1, show: false },
      {
        type: "category", gridIndex: 4, inverse: true, data: heatModules, axisLine: { show: false }, axisTick: { show: false },
        axisLabel: {
          margin: 8,
          formatter: (v: string) => `{${v}|${v}}`,
          rich: {
            turquoise: { fontFamily: SERIF, fontSize: 27, color: "#111" },
            blue: { fontFamily: SANS, fontSize: 16, color: "#222", padding: [0, 2, 0, 0] },
            brown: { fontFamily: SERIF, fontSize: 27, color: "#111", padding: [0, 9, 0, 0] },
            yellow: { fontFamily: SERIF, fontSize: 27, color: "#111", padding: [0, 6, 0, 0] },
            grey: { fontFamily: SERIF, fontSize: 27, color: "#111", padding: [0, 17, 0, 0] },
          },
        },
      },
      {
        type: "value", gridIndex: 5, position: "right", min: -1, max: 1, interval: 0.5,
        axisLine: { show: false, onZero: false }, splitLine: { show: false },
        axisTick: { show: true, length: 11, lineStyle: { color: "#222", width: 1.5 } },
        axisLabel: { margin: 14, fontFamily: SANS, fontSize: 15, color: "#222" },
      },
      {
        type: "value", gridIndex: 6, min: 0, max: 0.6, interval: 0.1, offset: 14.5,
        axisLine: { show: true, onZero: false, lineStyle: { color: "#111", width: 2 } }, splitLine: { show: false },
        axisTick: { show: true, length: 9, lineStyle: { color: "#111", width: 2 } },
        axisLabel: { rotate: 90, margin: 13, fontFamily: SERIF, fontSize: 24, color: "#111", customValues: barTicks, formatter: (v: number) => v.toFixed(1) },
      },
      chordAxis(7), chordAxis(8),
    ],
    visualMap: [
      {
        type: "continuous", seriesIndex: heatIdx, min: -1, max: 1, calculable: false, itemWidth: 13, itemHeight: 365, left: 343, top: 1472, padding: 0, showLabel: false, text: ["", ""], textGap: 0, z: 1,
        inRange: { color: ["#2f7cc4", "#85b8e8", "#ffffff", "#f69377", "#ee2a0a"] },
      },
    ],
    series,
    graphic: { elements: graphicEls },
  };
}

export default function App() {
  const ref = useRef<HTMLDivElement>(null);
  useEffect(() => {
    document.body.style.margin = "0";
    const chart = echarts.init(ref.current!, undefined, { renderer: "svg" });
    chart.setOption(buildOption() as any);
    return () => chart.dispose();
  }, []);
  return <div ref={ref} style={{ position: "absolute", left: 0, top: 0, width: 1214, height: 2480 }} />;
}
